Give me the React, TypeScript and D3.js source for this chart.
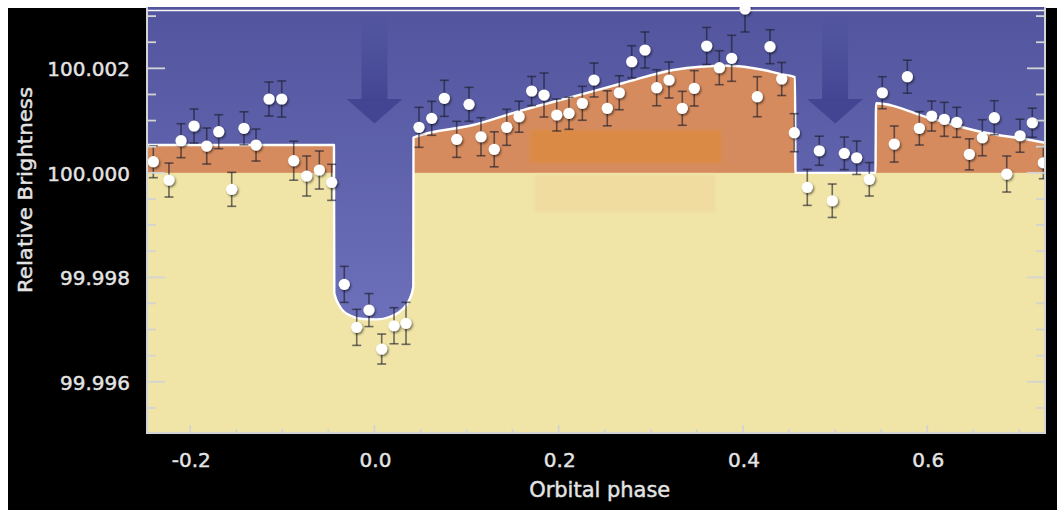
import React from "react";
import * as d3 from "d3";

// ---- observed data points ----
const phase = [-0.2401, -0.2231, -0.21, -0.1959, -0.1821, -0.1691, -0.155, -0.1417, -0.1286, -0.1145,
  -0.1007, -0.0877, -0.0736, -0.0599, -0.0465, -0.0328, -0.0193, -0.006, 0.0078, 0.0212,
  0.0342, 0.0483, 0.0621, 0.0758, 0.0892, 0.1026, 0.1156, 0.13, 0.1435, 0.1569,
  0.1706, 0.184, 0.1978, 0.2111, 0.2256, 0.2383, 0.2527, 0.2657, 0.2792, 0.2936,
  0.3063, 0.3197, 0.3341, 0.3471, 0.3606, 0.3743, 0.3877, 0.4022, 0.4155, 0.4293,
  0.442, 0.4557, 0.4698, 0.4828, 0.4969, 0.51, 0.5234, 0.5371, 0.5512, 0.5642,
  0.5784, 0.5914, 0.6048, 0.6185, 0.632, 0.6457, 0.6598, 0.6728, 0.6863, 0.7007,
  0.714, 0.726];

const brightness = [100.000213, 99.999862, 100.000615, 100.000896, 100.000513, 100.000787, 99.999684, 100.000852, 100.000532, 100.001413,
  100.001413, 100.000232, 99.999939, 100.000054, 99.999818, 99.997865, 99.997042, 99.997373, 99.996627, 99.997073,
  99.997119, 100.000871, 100.001043, 100.001426, 100.000641, 100.001311, 100.000691, 100.00045, 100.000871, 100.001074,
  100.001566, 100.001489, 100.001107, 100.001139, 100.001331, 100.001777, 100.001235, 100.001533, 100.002127, 100.002351,
  100.001629, 100.001777, 100.001235, 100.001618, 100.002428, 100.002012, 100.002192, 100.003136, 100.001457, 100.002414,
  100.001796, 100.000768, 99.999722, 100.000423, 99.999466, 100.000373, 100.000289, 99.999876, 100.001533, 100.000551,
  100.00184, 100.000852, 100.001087, 100.001024, 100.000967, 100.000354, 100.000672, 100.001055, 99.999977, 100.00071,
  100.000959, 100.000193];

const errors = [0.000306, 0.000325, 0.000325, 0.000325, 0.000345, 0.000325, 0.000325, 0.000316, 0.000306, 0.000325,
  0.000345, 0.000373, 0.000383, 0.000364, 0.000345, 0.000345, 0.000345, 0.000316, 0.000287, 0.000345,
  0.000402, 0.000383, 0.000325, 0.000345, 0.000345, 0.000325, 0.000364, 0.000335, 0.000345, 0.000297,
  0.000278, 0.000421, 0.000306, 0.000306, 0.000325, 0.000325, 0.000335, 0.000325, 0.000306, 0.000345,
  0.000345, 0.000345, 0.000325, 0.000339, 0.000354, 0.000325, 0.00044, 0.00044, 0.000383, 0.000325,
  0.000316, 0.000364, 0.000345, 0.000278, 0.00032, 0.000312, 0.00032, 0.00032, 0.000306, 0.000345,
  0.000316, 0.00032, 0.000287, 0.000325, 0.000287, 0.000297, 0.000345, 0.000325, 0.000345, 0.000316,
  0.000278, 0.000306];

// ---- model light curve ----
const modelPhase = [-0.247, -0.044, -0.04364, -0.03745, -0.02659, -0.01216, 0.00239, 0.01682, 0.02953, 0.03853,
  0.04212, 0.04233, 0.1072, 0.1612, 0.2155, 0.27, 0.3243, 0.3536, 0.3829, 0.4225,
  0.4402, 0.4564, 0.457, 0.5438, 0.5444, 0.6033, 0.6576, 0.7119, 0.7278];
const modelValue = [100.000532, 100.000532, 99.997693, 99.997437, 99.997269, 99.997201, 99.997195, 99.997245, 99.997373, 99.997597,
  99.997819, 100.000676, 100.000915, 100.001202, 100.001457, 100.001719, 100.001968, 100.002031, 100.00205, 100.001968,
  100.001892, 100.001834, 100.0, 100.0, 100.001331, 100.001043, 100.000787, 100.000628, 100.000576];

// ---- axes ----
const xMajor = [-0.2, 0, 0.2, 0.4, 0.6];
const xLabels = ["-0.2", "0.0", "0.2", "0.4", "0.6"];
const xMinor = [-0.15, -0.1, -0.05, 0.05, 0.1, 0.15, 0.25, 0.3, 0.35, 0.45, 0.5, 0.55, 0.65, 0.7];
const yMajor = [99.996, 99.998, 100.0, 100.002];
const yLabels = ["99.996", "99.998", "100.000", "100.002"];
const yMinor = [99.9955, 99.9965, 99.997, 99.9975, 99.9985, 99.999, 99.9995, 100.0005, 100.001, 100.0015, 100.0025, 100.003];
const arrowPhases = [0, 0.5];

const L = 147, R = 1045, T = 7, B = 433;
const FONT = "'DejaVu Sans', 'Liberation Sans', sans-serif";

export default function App() {
  const x = d3.scaleLinear().domain([-0.24695, 0.72782]).range([L, R]);
  const y = d3.scaleLinear().domain([99.99502, 100.003155]).range([B, 8]);
  const pts: [number, number][] = modelPhase.map((p, i) => [p, modelValue[i]]);
  const area = d3.area<[number, number]>().x(d => x(d[0])).y0(B + 2).y1(d => y(d[1])).curve(d3.curveMonotoneX);
  const line = d3.line<[number, number]>().x(d => x(d[0])).y(d => y(d[1])).curve(d3.curveMonotoneX);
  const y0 = y(100);
  const tickCol = "#d4d4d4";
  const txtCol = "#e4e4e4";

  return (
    <svg width={1057} height={510} style={{ position: "absolute", left: 0, top: 0, display: "block" }}>
      <defs>
        <linearGradient id="bgGrad" x1="0" y1={T} x2="0" y2={B} gradientUnits="userSpaceOnUse">
          <stop offset="0" stopColor="#52559e" />
          <stop offset="1" stopColor="#7679c3" />
        </linearGradient>
        <linearGradient id="shaftGrad" x1="0" y1="14" x2="0" y2="100" gradientUnits="userSpaceOnUse">
          <stop offset="0" stopColor="#3f418f" stopOpacity="0" />
          <stop offset="1" stopColor="#3f418f" stopOpacity="0.85" />
        </linearGradient>
        <clipPath id="plotClip">
          <rect x={L} y={T} width={R - L} height={B - T} />
        </clipPath>
        <clipPath id="underModel">
          <path d={area(pts) || ""} />
        </clipPath>
        <filter id="dotShadow" x="-50%" y="-50%" width="200%" height="200%">
          <feDropShadow dx="1.2" dy="1.6" stdDeviation="1" floodColor="#000" floodOpacity="0.55" />
        </filter>
        <filter id="soft" x="-10%" y="-30%" width="120%" height="160%">
          <feGaussianBlur stdDeviation="1.5" />
        </filter>
      </defs>

      <rect x={0} y={0} width={1057} height={510} fill="#ffffff" />
      <rect x={8} y={8} width={1049} height={502} fill="#000000" />

      <g clipPath="url(#plotClip)">
        <rect x={L} y={T} width={R - L} height={B - T} fill="url(#bgGrad)" />
        {arrowPhases.map((p, i) => {
          const cx = x(p);
          return (
            <g key={i}>
              <rect x={cx - 13} y={14} width={26} height={86} fill="url(#shaftGrad)" />
              <path d={`M${cx - 28},99 L${cx + 28},99 L${cx},123.5 Z`} fill="#40428f" fillOpacity={0.88} />
            </g>
          );
        })}
        <g clipPath="url(#underModel)">
          <rect x={L} y={T} width={R - L} height={B - T} fill="#d58b5e" />
          <rect x={x(0.1686)} y={130} width={x(0.3766) - x(0.1686)} height={33} fill="#db8a45" filter="url(#soft)" />
          <rect x={L} y={y0} width={R - L} height={B - y0 + 2} fill="#f0e4a6" />
          <rect x={x(0.174)} y={175} width={x(0.3695) - x(0.174)} height={37} fill="#efdc9e" filter="url(#soft)" />
        </g>
        <path d={line(pts) || ""} fill="none" stroke="#ffffff" strokeWidth={2.4} strokeLinejoin="round" />

        <g stroke="#1c1c2c" strokeOpacity={0.62} strokeWidth={1.6}>
          {phase.map((p, i) => {
            const cx = x(p);
            const yt = y(brightness[i] + errors[i]);
            const yb = y(brightness[i] - errors[i]);
            return (
              <g key={i}>
                <line x1={cx} x2={cx} y1={yt} y2={yb} />
                <line x1={cx - 4.5} x2={cx + 4.5} y1={yt} y2={yt} />
                <line x1={cx - 4.5} x2={cx + 4.5} y1={yb} y2={yb} />
              </g>
            );
          })}
        </g>
        <g filter="url(#dotShadow)">
          {phase.map((p, i) => (
            <circle key={i} cx={x(p)} cy={y(brightness[i])} r={5.6} fill="#ffffff" />
          ))}
        </g>
      </g>

      {/* frame */}
      <line x1={L} x2={R} y1={10.5} y2={10.5} stroke="#f4f4f4" strokeWidth={1.6} />
      <line x1={L} x2={L} y1={T} y2={B} stroke={tickCol} strokeWidth={2} />
      <line x1={R} x2={R} y1={T} y2={B} stroke={tickCol} strokeWidth={2} />
      <line x1={L - 1} x2={R + 1} y1={B} y2={B} stroke={tickCol} strokeWidth={2} />

      {/* ticks */}
      <g stroke={tickCol} strokeWidth={1.8}>
        {yMajor.map((v, i) => (
          <g key={"ym" + i}>
            <line x1={L} x2={L + 18} y1={y(v)} y2={y(v)} />
            <line x1={R} x2={R - 18} y1={y(v)} y2={y(v)} />
          </g>
        ))}
        {yMinor.map((v, i) => (
          <g key={"yn" + i}>
            <line x1={L} x2={L + 9} y1={y(v)} y2={y(v)} />
            <line x1={R} x2={R - 9} y1={y(v)} y2={y(v)} />
          </g>
        ))}
        {xMajor.map((v, i) => (
          <line key={"xm" + i} x1={x(v)} x2={x(v)} y1={B} y2={B - 8} />
        ))}
        {xMinor.map((v, i) => (
          <line key={"xn" + i} x1={x(v)} x2={x(v)} y1={B} y2={B - 4} />
        ))}
      </g>

      {/* labels */}
      <g fontFamily={FONT} fontSize={20} fill={txtCol} stroke={txtCol} strokeWidth={0.45}>
        {yMajor.map((v, i) => (
          <text key={"yl" + i} x={130} y={y(v) + 8} textAnchor="end">{yLabels[i]}</text>
        ))}
        {xMajor.map((v, i) => (
          <text key={"xl" + i} x={x(v) + 1} y={466.5} textAnchor="middle">{xLabels[i]}</text>
        ))}
      </g>
      <text x={599.7} y={496.5} textAnchor="middle" fontFamily={FONT} fontSize={21} fill={txtCol}
        stroke={txtCol} strokeWidth={0.45} textLength={141} lengthAdjust="spacingAndGlyphs">Orbital phase</text>
      <text transform="translate(32.3,190) rotate(-90)" textAnchor="middle" fontFamily={FONT} fontSize={19.5}
        fill={txtCol} stroke={txtCol} strokeWidth={0.45} textLength={206} lengthAdjust="spacingAndGlyphs">Relative Brightness</text>
    </svg>
  );
}
